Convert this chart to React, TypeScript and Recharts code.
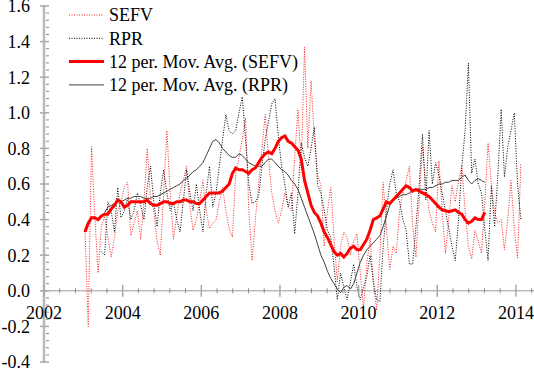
import { LineChart, Line, XAxis, YAxis, ReferenceLine } from 'recharts'

// monthly values, first point = Jan 2003
const sefv = [
  0.35, -0.20, 0.81, 0.42, 0.10, 0.36, 0.42, 0.30, 0.19, 0.30,
  0.45, 0.50, 0.58, 0.61, 0.31, 0.38, 0.45, 0.29, 0.50, 0.80,
  0.52, 0.45, 0.28, 0.20, 0.55, 0.90, 0.55, 0.29, 0.42, 0.55,
  0.62, 0.70, 0.48, 0.34, 0.40, 0.50, 0.62, 0.45, 0.35, 0.38,
  0.40, 0.50, 0.58, 0.45, 0.35, 0.30, 0.66, 0.75, 0.85, 0.97,
  0.45, 0.17, 0.40, 0.60, 0.80, 0.99, 0.75, 0.55, 0.45, 0.38,
  0.45, 0.55, 0.48, 0.45, 0.75, 1.02, 0.70, 1.37, 0.80, 1.18,
  0.85, 0.65, 0.59, 0.25, 0.45, 0.58, 0.30, 0.05, 0.25, 0.33,
  0.30, 0.20, 0.28, 0.32, 0.10, -0.10, 0.15, 0.30, 0.05, -0.11,
  0.20, 0.61, 0.35, 0.12, 0.25, 0.21, 0.45, 0.55, 0.62, 0.70,
  0.36, 0.19, 0.51, 0.81, 0.60, 0.45, 0.38, 0.33, 0.73, 0.45,
  0.21, 0.40, 0.59, 0.50, 0.62, 0.70, 0.45, 0.25, 0.18, 0.34,
  0.28, 0.21, 0.50, 0.83, 0.60, 0.44, 0.38, 0.40, 0.23, 0.40,
  0.62, 0.35, 0.18, 0.71,
]

// starts at month 5
const RPR_START = 5
const rpr = [
  0.22, 0.20, 0.50, 0.45, 0.33,
  0.58, 0.41, 0.45, 0.52, 0.40, 0.45, 0.55, 0.48, 0.40, 0.58,
  0.70, 0.50, 0.36, 0.55, 0.68, 0.55, 0.45, 0.50, 0.40, 0.33,
  0.50, 0.68, 0.55, 0.45, 0.60, 0.45, 0.33, 0.55, 0.70, 0.47,
  0.55, 0.70, 0.85, 0.99, 0.90, 0.88, 0.90, 1.00, 1.09, 0.85,
  0.60, 0.49, 0.50, 0.53, 0.70, 0.85, 0.95, 1.05, 1.08, 0.87,
  0.70, 0.60, 0.47, 0.55, 0.32, 0.55, 0.83, 0.75, 0.70, 0.80,
  0.92, 0.59, 0.55, 0.45, 0.34, 0.30, 0.14, -0.05, 0.10, 0.02,
  -0.05, 0.05, 0.15, 0.02, -0.05, 0.02, 0.08, 0.20, 0.05, -0.05,
  -0.06, 0.25, 0.45, 0.60, 0.68, 0.55, 0.50, 0.40, 0.34, 0.15,
  0.15, 0.36, 0.60, 0.88, 0.51, 0.90, 0.60, 0.72, 0.65, 0.55,
  0.45, 0.35, 0.25, 0.17, 0.40, 0.70, 0.90, 1.28, 0.66, 0.74,
  0.60, 0.55, 0.35, 0.17, 0.59, 0.36, 0.65, 1.02, 0.64, 0.81,
  0.90, 1.00, 0.60, 0.40,
]

const maSefv = [
  0.33, 0.38, 0.41, 0.41, 0.40, 0.42, 0.43, 0.43, 0.46, 0.48,
  0.51, 0.50, 0.47, 0.48, 0.50, 0.50, 0.50, 0.50, 0.50, 0.51,
  0.49, 0.48, 0.48, 0.49, 0.50, 0.50, 0.49, 0.49, 0.50, 0.50,
  0.51, 0.51, 0.50, 0.50, 0.49, 0.49, 0.51, 0.53, 0.55, 0.55,
  0.55, 0.55, 0.56, 0.58, 0.60, 0.66, 0.69, 0.68, 0.68, 0.67,
  0.66, 0.68, 0.69, 0.72, 0.75, 0.77, 0.78, 0.77, 0.80, 0.84,
  0.86, 0.87, 0.84, 0.83, 0.81, 0.79, 0.74, 0.62, 0.55, 0.48,
  0.44, 0.42, 0.38, 0.33, 0.30, 0.26, 0.22, 0.20, 0.21, 0.19,
  0.21, 0.24, 0.25, 0.23, 0.23, 0.26, 0.29, 0.34, 0.40, 0.41,
  0.42, 0.46, 0.50, 0.49, 0.51, 0.53, 0.55, 0.57, 0.59, 0.58,
  0.56, 0.57, 0.56, 0.55, 0.54, 0.53, 0.51, 0.49, 0.47, 0.455,
  0.45, 0.445, 0.45, 0.455, 0.44, 0.43, 0.40, 0.38, 0.39, 0.41,
  0.40, 0.40, 0.44,
]

const MA_RPR_START = 6
const maRpr = [
  0.44, 0.47, 0.48, 0.49, 0.50, 0.50, 0.51, 0.52, 0.52, 0.53,
  0.53, 0.53, 0.52, 0.52, 0.52, 0.53, 0.53, 0.54, 0.55, 0.56,
  0.57, 0.58, 0.59, 0.60, 0.62, 0.63, 0.65, 0.67, 0.68, 0.70,
  0.72, 0.76, 0.80, 0.84, 0.85, 0.83, 0.80, 0.78, 0.76, 0.75,
  0.75, 0.77, 0.76, 0.74, 0.72, 0.71, 0.70, 0.70, 0.70, 0.72,
  0.74, 0.74, 0.72, 0.70, 0.68, 0.67, 0.65, 0.62, 0.60, 0.57,
  0.52, 0.47, 0.42, 0.37, 0.32, 0.26, 0.20, 0.16, 0.11, 0.07,
  0.04, 0.01, -0.01, 0.02, 0.03, 0.01, 0.04, 0.10, 0.16, 0.20,
  0.23, 0.25, 0.27, 0.29, 0.31, 0.36, 0.42, 0.48, 0.51, 0.52,
  0.53, 0.54, 0.54, 0.55, 0.56, 0.57, 0.57, 0.57, 0.57, 0.58,
  0.58, 0.59, 0.60, 0.60, 0.61, 0.61, 0.62, 0.62, 0.62, 0.64,
  0.65, 0.62, 0.60, 0.62, 0.63, 0.62, 0.61,
]

const yMajorTicks = [-0.4, -0.2, 0, 0.2, 0.4, 0.6, 0.8, 1.0, 1.2, 1.4, 1.6]
const yearLabels = [2002, 2004, 2006, 2008, 2010, 2012, 2014]

const W = 534
const H = 368
const M_TOP = 6
const X_AXIS_H = 6
const Y_MIN = -0.4
const Y_MAX = 1.6
const X_MIN = 2002
const X_MAX = 2014.46
const PLOT_H = H - M_TOP - X_AXIS_H
const FONT = "'Liberation Serif', 'Times New Roman', Times, serif"
const FONT_SIZE = 18

const rows = sefv.map((v, i) => ({
  t: 2003 + (i + 0.5) / 12,
  sefv: v,
  rpr: i >= RPR_START ? rpr[i - RPR_START] ?? null : null,
  maSefv: maSefv[i] ?? null,
  maRpr: i >= MA_RPR_START ? maRpr[i - MA_RPR_START] ?? null : null,
}))

// minor ticks every 0.04 on y, every 0.4 year on x
const yTicks: number[] = []
for (let k = 0; k <= 50; k++) yTicks.push(Math.round((Y_MIN + k * 0.04) * 100) / 100)
const xTicks: number[] = []
for (let k = 0; k <= 31; k++) xTicks.push(Math.round((X_MIN + k * 0.4) * 10) / 10)

function SerifText({ x, y, anchor, children }: any) {
  return (
    <text x={x} y={y} dy="0.36em" textAnchor={anchor} fontFamily={FONT} fontSize={FONT_SIZE} fill="#000">
      {children}
    </text>
  )
}

function renderYTick(props: any) {
  const { x, y, payload } = props
  const v = payload.value
  const major = yMajorTicks.some(m => Math.abs(m - v) < 1e-6)
  if (!major) {
    return <line x1={x + 2} x2={x + 5} y1={y} y2={y} stroke="#8a8a8a" strokeWidth={1} />
  }
  return (
    <g>
      <line x1={x - 4} x2={x + 5} y1={y} y2={y} stroke="#a8a8a8" strokeWidth={1.5} />
      <SerifText x={x - 14} y={y} anchor="end">{v.toFixed(1)}</SerifText>
    </g>
  )
}

function renderXTick(props: any) {
  const { x, y, payload } = props
  const v = payload.value
  const zeroY = y - (PLOT_H * (0 - Y_MIN)) / (Y_MAX - Y_MIN)
  const label = yearLabels.find(yr => Math.abs(yr - v) < 1e-6)
  if (label === undefined) {
    return <line x1={x} x2={x} y1={zeroY - 2.5} y2={zeroY + 2.5} stroke="#8a8a8a" strokeWidth={1} />
  }
  return (
    <g>
      <line x1={x} x2={x} y1={zeroY - 6} y2={zeroY + 6} stroke="#a8a8a8" strokeWidth={1.5} />
      <SerifText x={x} y={zeroY + 22} anchor="middle">{label}</SerifText>
    </g>
  )
}

const legendItems = [
  { label: 'SEFV', color: '#ff2020', width: 1, dash: '1 1.5' },
  { label: 'RPR', color: '#000000', width: 1, dash: '1 1.5' },
  { label: '12 per. Mov. Avg. (SEFV)', color: '#ff0000', width: 3, dash: undefined },
  { label: '12 per. Mov. Avg. (RPR)', color: '#404040', width: 1, dash: undefined },
]

function LegendBox() {
  return (
    <svg width={340} height={100} style={{ position: 'absolute', left: 0, top: 0, pointerEvents: 'none' }}>
      {legendItems.map((it, i) => {
        const cy = 15 + i * 23.3
        return (
          <g key={it.label}>
            <line x1={69} x2={104} y1={cy} y2={cy} stroke={it.color} strokeWidth={it.width} strokeDasharray={it.dash} />
            <SerifText x={109} y={cy} anchor="start">{it.label}</SerifText>
          </g>
        )
      })}
    </svg>
  )
}

export default function App() {
  return (
    <div style={{ position: 'absolute', left: 0, top: 0, width: W, height: H, background: '#fff' }}>
      <LineChart width={W} height={H} data={rows} margin={{ top: M_TOP, right: 0, bottom: 0, left: 0 }}>
        <XAxis
          type="number"
          dataKey="t"
          domain={[X_MIN, X_MAX]}
          ticks={xTicks}
          interval={0}
          height={X_AXIS_H}
          axisLine={false}
          tickLine={false}
          tickSize={0}
          tickMargin={0}
          tick={renderXTick}
          allowDataOverflow
        />
        <YAxis
          type="number"
          domain={[Y_MIN, Y_MAX]}
          ticks={yTicks}
          interval={0}
          width={44}
          axisLine={{ stroke: '#b8b8b8', strokeWidth: 2.5 }}
          tickLine={false}
          tickSize={0}
          tickMargin={0}
          tick={renderYTick}
          allowDataOverflow
        />
        <ReferenceLine y={0} stroke="#9a9a9a" strokeWidth={1} />
        <Line dataKey="sefv" stroke="#ff2020" strokeWidth={1} strokeDasharray="1 1.5" dot={false} isAnimationActive={false} connectNulls={false} />
        <Line dataKey="rpr" stroke="#000000" strokeWidth={1} strokeDasharray="1 1.5" dot={false} isAnimationActive={false} connectNulls={false} />
        <Line dataKey="maRpr" stroke="#404040" strokeWidth={1} dot={false} isAnimationActive={false} connectNulls={false} />
        <Line dataKey="maSefv" stroke="#ff0000" strokeWidth={3} dot={false} isAnimationActive={false} connectNulls={false} />
      </LineChart>
      <LegendBox />
    </div>
  )
}
